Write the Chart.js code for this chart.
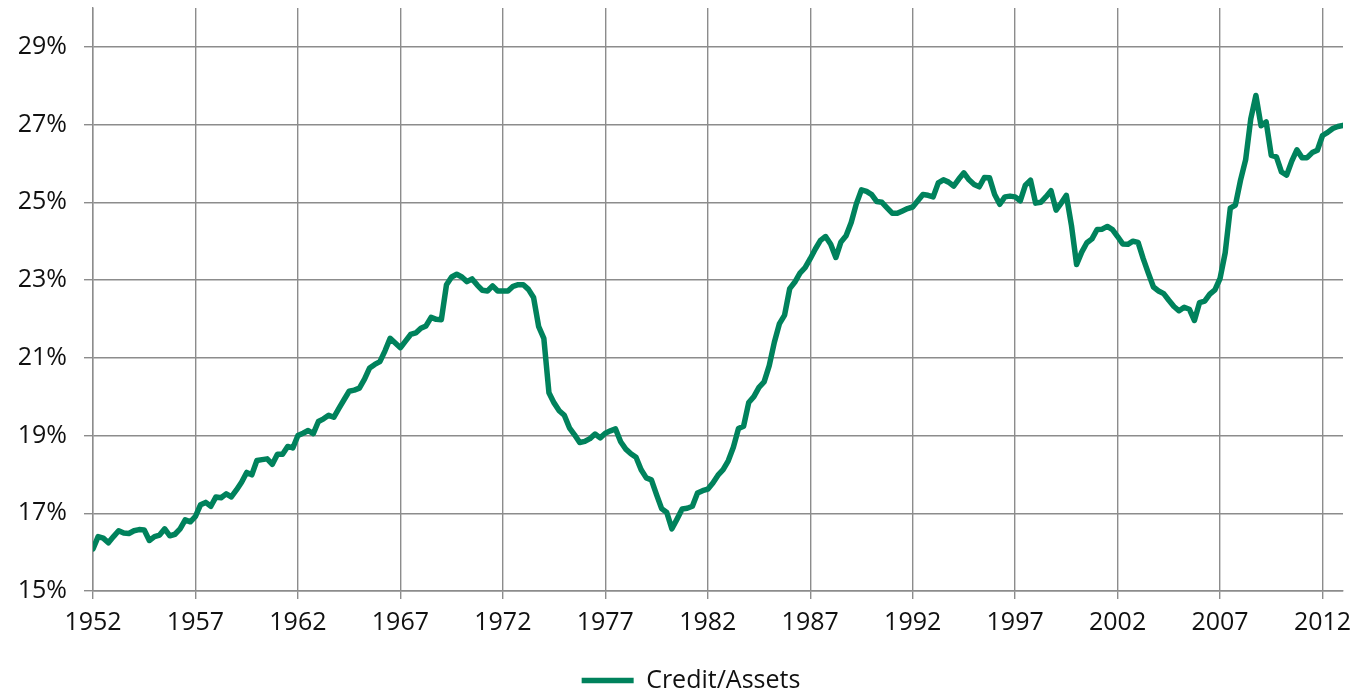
<!DOCTYPE html>
<html>
<head>
<meta charset="utf-8">
<script src="https://cdn.jsdelivr.net/npm/chart.js@4/dist/chart.umd.min.js"></script>
<style>
  html, body { margin: 0; padding: 0; background: #ffffff; }
  #wrap { width: 1359px; height: 692px; position: relative; }
</style>
</head>
<body>
<div id="wrap"><canvas id="c"></canvas></div>
<script>
// Quarterly series, 1952Q1 .. 2013Q1 (values in %)
const creditAssets = [
  16.08,16.40,16.36,16.24,16.40,16.55,16.49,16.48,16.55,16.58,
  16.57,16.30,16.40,16.44,16.60,16.42,16.46,16.60,16.83,16.78,
  16.92,17.22,17.28,17.18,17.42,17.40,17.50,17.42,17.60,17.80,
  18.05,17.99,18.36,18.38,18.40,18.26,18.52,18.52,18.72,18.68,
  19.00,
  19.06,19.13,19.05,19.36,19.43,19.52,19.47,19.70,19.92,
  20.14,20.17,20.22,20.45,20.74,20.83,20.90,21.18,21.50,21.38,
  21.26,21.43,21.60,21.64,21.76,21.82,22.04,21.99,21.98,22.88,
  23.08,23.15,23.08,22.96,23.03,22.87,22.74,22.72,22.85,22.72,
  22.72,
  22.72,22.84,22.88,22.88,22.76,22.55,21.80,21.50,20.10,
  19.84,19.64,19.52,19.20,19.02,18.82,18.85,18.92,19.04,18.94,
  19.06,19.12,19.17,18.84,18.65,18.53,18.44,18.12,17.91,17.86,
  17.48,17.12,17.02,16.60,16.85,17.11,17.13,17.18,17.52,17.58,
  17.62,
  17.78,17.98,18.12,18.35,18.70,19.18,19.24,19.85,20.00,
  20.24,20.38,20.80,21.40,21.88,22.10,22.78,22.95,23.18,23.32,
  23.55,23.80,24.02,24.12,23.92,23.58,23.98,24.14,24.48,24.96,
  25.32,25.28,25.20,25.02,25.00,24.86,24.72,24.72,24.78,24.84,
  24.88,
  25.04,25.20,25.18,25.14,25.50,25.58,25.52,25.42,25.60,
  25.76,25.58,25.46,25.40,25.64,25.63,25.20,24.95,25.14,25.16,
  25.14,25.04,25.44,25.57,24.98,25.00,25.14,25.30,24.80,24.98,
  25.18,24.40,23.40,23.72,23.96,24.06,24.30,24.31,24.38,24.30,
  24.12,
  23.93,23.92,24.00,23.97,23.55,23.18,22.82,22.72,22.65,
  22.48,22.32,22.21,22.30,22.25,21.96,22.42,22.46,22.64,22.75,
  23.04,23.70,24.85,24.93,25.57,26.10,27.15,27.75,26.97,27.07,
  26.21,26.17,25.78,25.70,26.06,26.35,26.15,26.15,26.28,26.34,
  26.72,26.80,26.90,26.95,26.98
];

const firstYear = 1952;
// Categories: one per quarter, as decimal years
const categories = creditAssets.map((_, i) => firstYear + i / 4);

const xTickLabels = [1952, 1957, 1962, 1967, 1972, 1977, 1982, 1987, 1992, 1997, 2002, 2007, 2012];
const yTickLabels = [15, 17, 19, 21, 23, 25, 27, 29];
const seriesName = 'Credit/Assets';

const GRID = '#8c8c8c';
const GREEN = '#00825c';
const FONT = "'Open Sans', 'DejaVu Sans', sans-serif";

const points = categories.map((x, i) => ({ x: x, y: creditAssets[i] }));

const legendShift = {
  id: 'legendShift',
  afterLayout(chart) {
    if (chart.legend) { chart.legend.left += 39; }
  }
};

new Chart(document.getElementById('c'), {
  type: 'line',
  data: {
    datasets: [{
      label: seriesName,
      data: points,
      borderColor: GREEN,
      backgroundColor: GREEN,
      borderWidth: 5.5,
      borderJoinStyle: 'round',
      borderCapStyle: 'round',
      pointRadius: 0,
      pointHoverRadius: 0,
      tension: 0,
      fill: false
    }]
  },
  plugins: [legendShift],
  options: {
    responsive: true,
    maintainAspectRatio: false,
    animation: false,
    events: [],
    layout: { padding: { left: 0, right: 16, top: 8, bottom: -11 } },
    plugins: {
      tooltip: { enabled: false },
      legend: {
        position: 'bottom',
        labels: {
          usePointStyle: true,
          pointStyle: 'line',
          pointStyleWidth: 52,
          padding: 1,
          color: '#111',
          font: { family: FONT, size: 25 }
        }
      }
    },
    scales: {
      x: {
        type: 'linear',
        min: firstYear,
        max: categories[categories.length - 1],
        afterBuildTicks: (scale) => { scale.ticks = xTickLabels.map(v => ({ value: v })); },
        afterFit: (scale) => { scale.height = 76; scale.paddingLeft = 0; scale.paddingRight = 0; },
        ticks: {
          autoSkip: false,
          maxRotation: 0,
          padding: 9,
          color: '#111',
          font: { family: FONT, size: 25 },
          callback: (v) => String(v)
        },
        grid: { color: GRID, lineWidth: 1.4, tickLength: 8, drawTicks: true },
        border: { display: true, color: GRID, width: 1.4 }
      },
      y: {
        type: 'linear',
        min: 15,
        max: 30,
        afterBuildTicks: (scale) => { scale.ticks = yTickLabels.map(v => ({ value: v })); },
        afterFit: (scale) => { scale.width = 93; scale.paddingTop = 0; scale.paddingBottom = 0; },
        ticks: {
          padding: 17,
          color: '#111',
          font: { family: FONT, size: 25 },
          callback: (v) => v + '%'
        },
        grid: { color: GRID, lineWidth: 1.4, tickLength: 9, drawTicks: true },
        border: { display: true, color: GRID, width: 1.4 }
      }
    }
  }
});
</script>
</body>
</html>
